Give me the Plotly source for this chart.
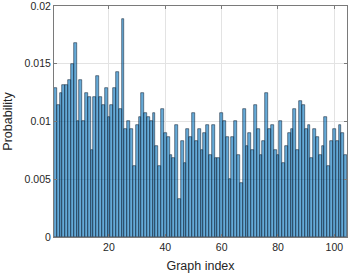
import plotly.graph_objects as go

graph_index = list(range(1, 105))
probability = [
    0.01288, 0.01141, 0.01251, 0.01320, 0.01320, 0.01358, 0.01500, 0.01680, 0.01001, 0.01358,
    0.01001, 0.01251, 0.01213, 0.00749, 0.01213, 0.01393, 0.01213, 0.01141, 0.01288, 0.01036,
    0.01141, 0.01288, 0.01430, 0.01109, 0.01888, 0.00935, 0.01001, 0.00935, 0.00613, 0.00967,
    0.01036, 0.01251, 0.01071, 0.01036, 0.01001, 0.01071, 0.00790, 0.00613, 0.01109, 0.00897,
    0.00865, 0.00714, 0.00680, 0.00967, 0.00326, 0.00828, 0.00645, 0.00935, 0.00865, 0.01071,
    0.00828, 0.00935, 0.00749, 0.00897, 0.00967, 0.00714, 0.00967, 0.00680, 0.00680, 0.01071,
    0.01001, 0.00865, 0.00506, 0.00865, 0.01001, 0.00714, 0.00471, 0.01109, 0.00790, 0.00897,
    0.00749, 0.01141, 0.00935, 0.00714, 0.00828, 0.01251, 0.00935, 0.00967, 0.00749, 0.00714,
    0.01001, 0.00645, 0.00790, 0.00897, 0.00935, 0.01109, 0.00749, 0.01178, 0.01141, 0.00935,
    0.00967, 0.00680, 0.00935, 0.00865, 0.00714, 0.00790, 0.01036, 0.00613, 0.00828, 0.00935,
    0.00828, 0.00967, 0.00897, 0.00714,
]
x_ticks = [20, 40, 60, 80, 100]
y_ticks = [0, 0.005, 0.01, 0.015, 0.02]
y_tick_labels = ["0", "0.005", "0.01", "0.015", "0.02"]

fig = go.Figure(
    go.Bar(
        x=graph_index,
        y=probability,
        width=1,
        marker=dict(color="rgba(0,114,189,0.6)", line=dict(color="rgba(15,30,50,0.9)", width=0.6)),
    )
)

axis_common = dict(
    showline=True,
    linecolor="#7a7a7a",
    linewidth=1,
    mirror="ticks",
    ticks="inside",
    ticklen=3,
    tickcolor="#7a7a7a",
    showgrid=True,
    gridcolor="#e3e3e3",
    gridwidth=1,
    zeroline=False,
    tickfont=dict(family="Liberation Sans, Arial, sans-serif", size=10.5, color="#262626"),
)

fig.update_layout(
    width=349,
    height=276,
    margin=dict(l=54, r=2, t=6, b=39),
    plot_bgcolor="white",
    paper_bgcolor="white",
    bargap=0,
    showlegend=False,
    font=dict(family="Liberation Sans, Arial, sans-serif", color="#262626"),
    xaxis=dict(
        range=[0.5, 104.5],
        tickvals=x_ticks,
        title=dict(text="Graph index", font=dict(size=12.5, color="#262626"), standoff=9),
        **axis_common,
    ),
    yaxis=dict(
        range=[0, 0.0200001],
        tickvals=y_ticks,
        ticktext=y_tick_labels,
        ticklabeloverflow="allow",
        title=dict(text="Probability", font=dict(size=12.5, color="#262626"), standoff=9),
        **axis_common,
    ),
)
fig.update_xaxes(automargin=False)
fig.update_yaxes(automargin=False)

fig.write_html(
    "out.html",
    config={"displayModeBar": False},
    post_script="document.body.style.margin='0';document.body.style.padding='0';",
)
